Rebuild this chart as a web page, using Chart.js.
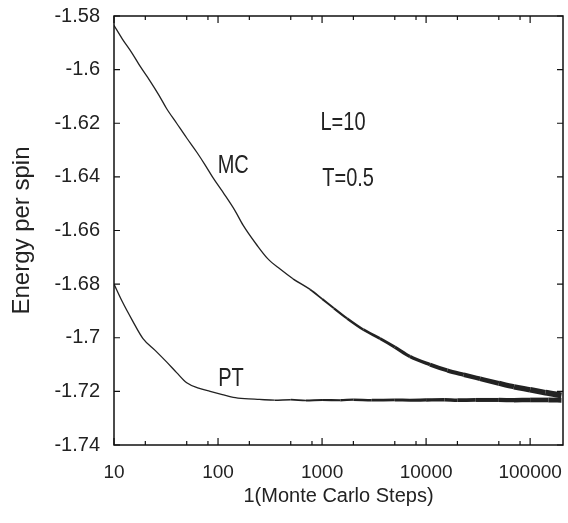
<!DOCTYPE html>
<html>
<head>
<meta charset="utf-8">
<script src="https://cdn.jsdelivr.net/npm/chart.js@4"></script>
<style>
  html, body { margin: 0; padding: 0; background: #fff; }
</style>
</head>
<body>
<canvas id="energyChart" width="568" height="523"></canvas>
<script>
// values
var mcSteps  = [10, 12, 15, 18, 22, 27, 32, 40, 50, 63, 75, 90, 115, 145, 174, 237, 300, 395, 525, 767,
                1000, 1300, 1740, 2500, 3600, 5000, 7000, 10900, 16000, 23000, 33000, 50000, 70000, 100000,
                140000, 200000];
var mcEnergy = [-1.5835, -1.5885, -1.594, -1.599, -1.604, -1.6095, -1.6145, -1.620, -1.6255, -1.631, -1.6355,
                -1.6405, -1.6465, -1.6525, -1.658, -1.6655, -1.6705, -1.6744, -1.678, -1.682, -1.6855, -1.689,
                -1.6928, -1.697, -1.7003, -1.7035, -1.707, -1.710, -1.7122, -1.7138, -1.7153, -1.717, -1.7183,
                -1.7194, -1.7205, -1.7215];

var ptSteps  = [10, 12, 15, 19, 25, 32, 40, 50, 65, 84, 110, 140, 180, 250, 350, 500, 700, 1000, 1500, 2000,
                3000, 5000, 7000, 10000, 15000, 20000, 30000, 50000, 70000, 100000, 150000, 200000];
var ptEnergy = [-1.680, -1.6865, -1.6935, -1.7003, -1.7048, -1.709, -1.713, -1.7168, -1.7188, -1.720, -1.7212,
                -1.7222, -1.7227, -1.723, -1.7233, -1.7231, -1.7234, -1.7232, -1.7233, -1.7231, -1.7233, -1.7232,
                -1.7233, -1.7232, -1.7231, -1.7233, -1.7232, -1.7232, -1.7233, -1.7232, -1.7232, -1.7233];

var xTickValues = [10, 20, 50, 80, 100, 200, 500, 800, 1000, 2000, 5000, 8000, 10000, 20000, 50000, 80000, 100000];
var xTickLabels = ['10', '100', '1000', '10000', '100000'];
var yTickValues = [-1.74, -1.72, -1.7, -1.68, -1.66, -1.64, -1.62, -1.6, -1.58];

var notes = [
  { text: 'MC', x: 140, y: -1.636 },
  { text: 'PT', x: 133, y: -1.7156 },
  { text: 'L=10', x: 1590, y: -1.620 },
  { text: 'T=0.5', x: 1780, y: -1.6407 }
];

function isDecade(v) {
  return xTickLabels.indexOf(String(v)) !== -1;
}

// the noisy tails look like a band that widens with the step count
function bandWidth(x, from, grow) {
  return 1.3 + Math.max(0, Math.log10(x) - from) * grow;
}

// frame, inward ticks on all four sides, and the text notes
var framePlugin = {
  id: 'frame',
  afterDraw: function (chart) {
    var ctx = chart.ctx;
    var a = chart.chartArea;
    var xs = chart.scales.x, ys = chart.scales.y;
    ctx.save();
    ctx.strokeStyle = '#111';
    ctx.lineWidth = 1.5;
    ctx.strokeRect(a.left, a.top, a.right - a.left, a.bottom - a.top);

    ctx.lineWidth = 1.2;
    ctx.beginPath();
    xTickValues.forEach(function (v) {
      var px = xs.getPixelForValue(v);
      var len = isDecade(v) ? 7 : 4;
      ctx.moveTo(px, a.bottom); ctx.lineTo(px, a.bottom - len);
      ctx.moveTo(px, a.top); ctx.lineTo(px, a.top + len);
    });
    yTickValues.forEach(function (v) {
      var py = ys.getPixelForValue(v);
      ctx.moveTo(a.left, py); ctx.lineTo(a.left + 6, py);
      ctx.moveTo(a.right, py); ctx.lineTo(a.right - 6, py);
    });
    ctx.stroke();

    ctx.fillStyle = '#222';
    ctx.font = '20px "Liberation Sans", Arial, sans-serif';
    ctx.textAlign = 'center';
    ctx.textBaseline = 'middle';
    notes.forEach(function (n) {
      var px = xs.getPixelForValue(n.x);
      var py = ys.getPixelForValue(n.y);
      ctx.save();
      ctx.translate(px, py);
      ctx.scale(1, 1.25);
      ctx.fillText(n.text, 0, 0);
      ctx.restore();
    });
    ctx.restore();
  }
};

function toPoints(xs, ys) {
  return xs.map(function (x, i) { return { x: x, y: ys[i] }; });
}

var ctx = document.getElementById('energyChart').getContext('2d');
var myChart = new Chart(ctx, {
  type: 'line',
  data: {
    datasets: [{
      label: 'MC',
      data: toPoints(mcSteps, mcEnergy),
      borderColor: '#222',
      borderWidth: 1.3,
      pointRadius: 0,
      cubicInterpolationMode: 'monotone',
      segment: {
        borderWidth: function (c) { return bandWidth(c.p0.parsed.x, 2.6, 1.8); }
      }
    }, {
      label: 'PT',
      data: toPoints(ptSteps, ptEnergy),
      borderColor: '#222',
      borderWidth: 1.3,
      pointRadius: 0,
      cubicInterpolationMode: 'monotone',
      segment: {
        borderWidth: function (c) { return bandWidth(c.p0.parsed.x, 2.4, 1.3); }
      }
    }]
  },
  options: {
    responsive: false,
    animation: false,
    devicePixelRatio: 1,
    layout: { padding: { top: 16, right: 5, left: 0, bottom: 0 } },
    plugins: {
      legend: { display: false },
      tooltip: { enabled: false }
    },
    scales: {
      x: {
        type: 'logarithmic',
        min: 10,
        max: 207000,
        grid: { display: false, drawTicks: false },
        border: { display: false },
        afterBuildTicks: function (scale) {
          scale.ticks = xTickValues.map(function (v) { return { value: v }; });
        },
        afterFit: function (scale) {
          scale.height = 78;
          scale.paddingLeft = 0;
          scale.paddingRight = 0;
        },
        ticks: {
          autoSkip: false,
          maxRotation: 0,
          padding: 16,
          color: '#222',
          font: { family: '"Liberation Sans", Arial, sans-serif', size: 19 },
          callback: function (v) { return isDecade(v) ? String(v) : ''; }
        },
        title: {
          display: true,
          text: '1(Monte Carlo Steps)',
          color: '#222',
          font: { family: '"Liberation Sans", Arial, sans-serif', size: 20 },
          padding: { top: 0, bottom: 15 }
        }
      },
      y: {
        min: -1.74,
        max: -1.58,
        grid: { display: false, drawTicks: false },
        border: { display: false },
        afterBuildTicks: function (scale) {
          scale.ticks = yTickValues.map(function (v) { return { value: v }; });
        },
        afterFit: function (scale) {
          scale.width = 114;
          scale.paddingTop = 0;
          scale.paddingBottom = 0;
        },
        ticks: {
          padding: 14,
          color: '#222',
          font: { family: '"Liberation Sans", Arial, sans-serif', size: 20 },
          callback: function (v) { return String(parseFloat(Number(v).toFixed(2))); }
        },
        title: {
          display: true,
          text: 'Energy per spin',
          color: '#222',
          font: { family: '"Liberation Sans", Arial, sans-serif', size: 24 },
          padding: { top: 8, bottom: 0 }
        }
      }
    }
  },
  plugins: [framePlugin]
});
</script>
</body>
</html>
